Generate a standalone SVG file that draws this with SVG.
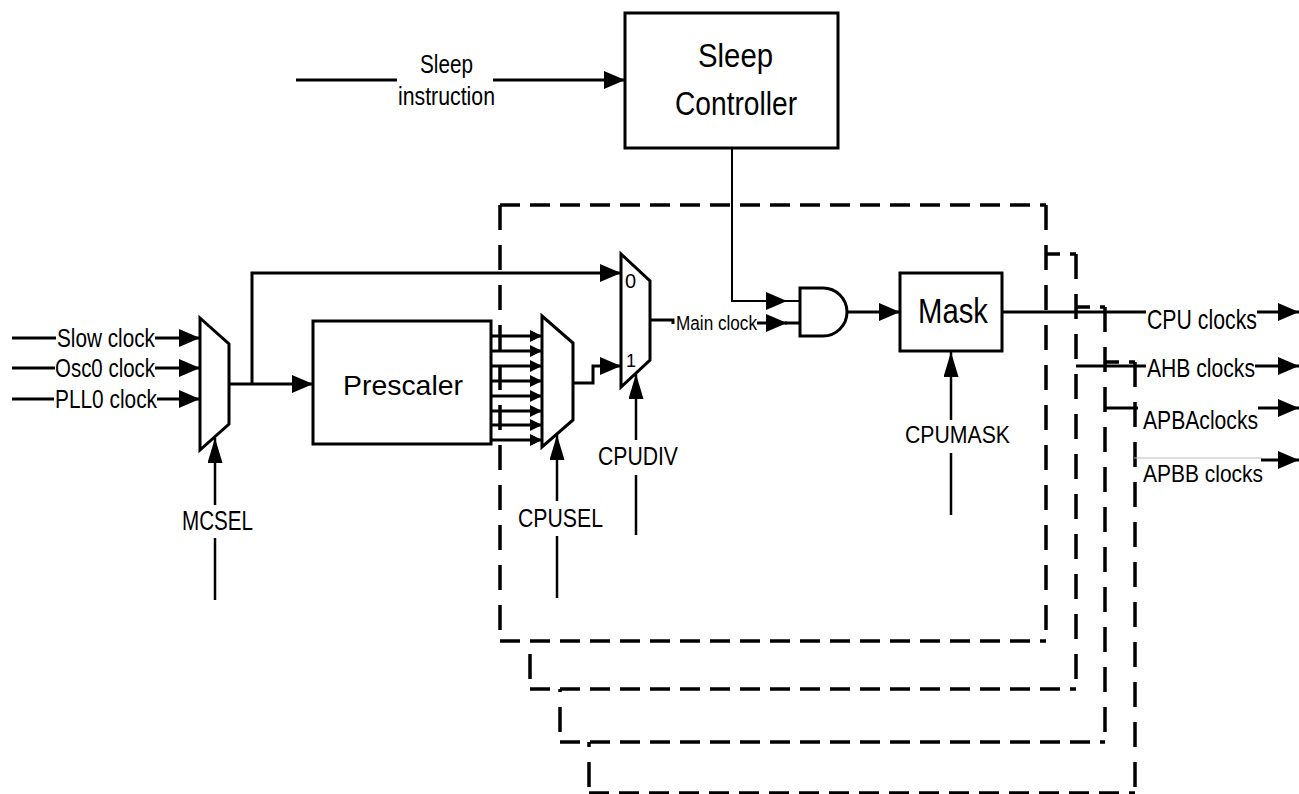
<svg xmlns="http://www.w3.org/2000/svg" width="1299" height="794" viewBox="0 0 1299 794">
<defs>
<style>
text{font-family:"Liberation Sans",Arial,sans-serif;fill:#000}
.box{fill:#fff;stroke:#000;stroke-width:3}
.mux{fill:#fff;stroke:#000;stroke-width:3;stroke-linejoin:miter}
.w{fill:none;stroke:#000;stroke-width:3}
.thin{fill:none;stroke:#000;stroke-width:2}
.ctl{fill:none;stroke:#000;stroke-width:2.5}
.bg{fill:#fff;stroke:none}
.dh{fill:none;stroke:#000;stroke-width:3.5;stroke-dasharray:20 10}
.dv{fill:none;stroke:#000;stroke-width:3.5;stroke-dasharray:25 15}
</style>
<marker id="ah" viewBox="0 0 21 18" refX="21" refY="9" markerWidth="21" markerHeight="18" markerUnits="userSpaceOnUse" orient="auto"><path d="M0,0 L21,9 L0,18 Z" fill="#000"/></marker>
<marker id="as" viewBox="0 0 12 12" refX="12" refY="6" markerWidth="12" markerHeight="12" markerUnits="userSpaceOnUse" orient="auto"><path d="M0,0 L12,6 L0,12 Z" fill="#000"/></marker>
<marker id="av" viewBox="0 0 25 15" refX="25" refY="7.5" markerWidth="25" markerHeight="15" markerUnits="userSpaceOnUse" orient="auto"><path d="M0,0 L25,7.5 L0,15 Z" fill="#000"/></marker>
</defs>
<rect width="1299" height="794" fill="#fff"/>

<g id="clock-domains">
  <g id="domain-apbb">
    <rect class="bg" x="589" y="362" width="546" height="431"/>
    <path class="dh" d="M589,362 H1135 M589,793 H1135"/>
    <path class="dv" d="M589,362 V793 M1135,362 V793"/>
  </g>
  <g id="domain-apba">
    <rect class="bg" x="560" y="307" width="545" height="435"/>
    <path class="dh" d="M560,307 H1105 M560,742 H1105"/>
    <path class="dv" d="M560,307 V742 M1105,307 V742"/>
  </g>
  <g id="domain-ahb">
    <rect class="bg" x="530" y="254" width="546" height="435"/>
    <path class="dh" d="M530,254 H1076 M530,689 H1076"/>
    <path class="dv" d="M530,254 V689 M1076,254 V689"/>
  </g>
  <g id="domain-cpu">
    <rect class="bg" x="500" y="205" width="546" height="436"/>
    <path class="dh" d="M500,205 H1046 M500,641 H1046"/>
    <path class="dv" d="M500,205 V641 M1046,205 V641"/>
  </g>
</g>

<g id="connectors">
  <line class="w" x1="296" y1="80" x2="397" y2="80"/>
  <line class="w" x1="493" y1="80" x2="625" y2="80" marker-end="url(#ah)"/>
  <polyline class="thin" points="732,148 732,301 787,301" marker-end="url(#ah)"/>
  <line class="thin" x1="785" y1="301" x2="800" y2="301"/>

  <line class="w" x1="12" y1="338" x2="56" y2="338"/>
  <line class="w" x1="155" y1="338" x2="200" y2="338" marker-end="url(#ah)"/>
  <line class="w" x1="12" y1="368" x2="55" y2="368"/>
  <line class="w" x1="155" y1="368" x2="200" y2="368" marker-end="url(#ah)"/>
  <line class="w" x1="12" y1="399" x2="54" y2="399"/>
  <line class="w" x1="157" y1="399" x2="200" y2="399" marker-end="url(#ah)"/>

  <line class="w" x1="229" y1="384" x2="313" y2="384" marker-end="url(#ah)"/>
  <polyline class="w" points="252,384 252,273 621,273" marker-end="url(#ah)"/>

  <line class="w" x1="491" y1="336" x2="542" y2="336" marker-end="url(#as)"/>
  <line class="w" x1="491" y1="351" x2="542" y2="351" marker-end="url(#as)"/>
  <line class="w" x1="491" y1="366" x2="542" y2="366" marker-end="url(#as)"/>
  <line class="w" x1="491" y1="381" x2="542" y2="381" marker-end="url(#as)"/>
  <line class="w" x1="491" y1="396" x2="542" y2="396" marker-end="url(#as)"/>
  <line class="w" x1="491" y1="411" x2="542" y2="411" marker-end="url(#as)"/>
  <line class="w" x1="491" y1="425" x2="542" y2="425" marker-end="url(#as)"/>
  <line class="w" x1="491" y1="440" x2="542" y2="440" marker-end="url(#as)"/>

  <polyline class="w" points="573,383 593,383 593,366 621,366" marker-end="url(#ah)"/>

  <polyline class="w" points="650,320 673,320 673,324"/>
  <line class="w" x1="757" y1="323" x2="787" y2="323" marker-end="url(#ah)"/>
  <line class="w" x1="785" y1="323" x2="800" y2="323"/>

  <line class="w" x1="847" y1="312" x2="900" y2="312" marker-end="url(#ah)"/>

  <line class="w" x1="1002" y1="312" x2="1146" y2="312"/>
  <line class="w" x1="1257" y1="312" x2="1299" y2="312" marker-end="url(#ah)"/>
  <line class="w" x1="1076" y1="366" x2="1146" y2="366"/>
  <line class="w" x1="1255" y1="366" x2="1299" y2="366" marker-end="url(#ah)"/>
  <line class="w" x1="1104" y1="408" x2="1138" y2="408"/>
  <line class="w" x1="1258" y1="408" x2="1299" y2="408" marker-end="url(#ah)"/>
  <line x1="1134" y1="458" x2="1262" y2="458" stroke="#bbb" stroke-width="1"/>
  <line class="w" x1="1261" y1="460" x2="1299" y2="460" marker-end="url(#ah)"/>

  <line class="ctl" x1="215" y1="600" x2="215" y2="538"/>
  <line class="ctl" x1="215" y1="505" x2="215" y2="438" marker-end="url(#av)"/>
  <line class="ctl" x1="557" y1="598" x2="557" y2="536"/>
  <line class="ctl" x1="557" y1="501" x2="557" y2="435" marker-end="url(#av)"/>
  <line class="ctl" x1="636" y1="535" x2="636" y2="475"/>
  <line class="ctl" x1="636" y1="440" x2="636" y2="374" marker-end="url(#av)"/>
  <line class="ctl" x1="951" y1="515" x2="951" y2="453"/>
  <line class="ctl" x1="951" y1="420" x2="951" y2="352" marker-end="url(#av)"/>
</g>

<g id="sleep-controller">
  <rect class="box" x="625" y="13" width="213" height="135"/>
  <text x="698" y="67" font-size="33" textLength="75" lengthAdjust="spacingAndGlyphs">Sleep</text>
  <text x="675" y="115" font-size="34" textLength="122" lengthAdjust="spacingAndGlyphs">Controller</text>
</g>

<g id="mux-mcsel">
  <polygon class="mux" points="200,318 229,344 229,424 200,450"/>
</g>

<g id="prescaler">
  <rect class="box" x="313" y="321" width="178" height="123"/>
  <text x="343" y="395" font-size="28" textLength="120" lengthAdjust="spacingAndGlyphs">Prescaler</text>
</g>

<g id="mux-cpusel">
  <polygon class="mux" points="542,316 573,343 573,420 542,447"/>
</g>

<g id="mux-cpudiv">
  <polygon class="mux" points="621,254 650,281 650,360 621,387"/>
  <text x="625" y="288" font-size="20">0</text>
  <text x="626" y="367" font-size="18">1</text>
</g>

<g id="and-gate">
  <path class="mux" d="M800,288 H823 A24,24 0 0 1 823,336 H800 Z"/>
</g>

<g id="mask">
  <rect class="box" x="900" y="273" width="102" height="78"/>
  <text x="918" y="323" font-size="35" textLength="70" lengthAdjust="spacingAndGlyphs">Mask</text>
</g>

<g id="labels">
  <text x="420" y="73" font-size="25" textLength="53" lengthAdjust="spacingAndGlyphs">Sleep</text>
  <text x="398" y="105" font-size="25" textLength="97" lengthAdjust="spacingAndGlyphs">instruction</text>
  <text x="57" y="347" font-size="25" textLength="98" lengthAdjust="spacingAndGlyphs">Slow clock</text>
  <text x="55" y="377" font-size="25" textLength="100" lengthAdjust="spacingAndGlyphs">Osc0 clock</text>
  <text x="55" y="408" font-size="25" textLength="102" lengthAdjust="spacingAndGlyphs">PLL0 clock</text>
  <text x="676" y="330" font-size="20" textLength="81" lengthAdjust="spacingAndGlyphs">Main clock</text>
  <text x="182" y="530" font-size="27" textLength="71" lengthAdjust="spacingAndGlyphs">MCSEL</text>
  <text x="518" y="527" font-size="26" textLength="85" lengthAdjust="spacingAndGlyphs">CPUSEL</text>
  <text x="598" y="465" font-size="26" textLength="80" lengthAdjust="spacingAndGlyphs">CPUDIV</text>
  <text x="905" y="443" font-size="24" textLength="105" lengthAdjust="spacingAndGlyphs">CPUMASK</text>
  <text x="1147" y="329" font-size="28" textLength="110" lengthAdjust="spacingAndGlyphs">CPU clocks</text>
  <text x="1147" y="377" font-size="26" textLength="108" lengthAdjust="spacingAndGlyphs">AHB clocks</text>
  <text x="1143" y="429" font-size="26" textLength="115" lengthAdjust="spacingAndGlyphs">APBAclocks</text>
  <text x="1143" y="482" font-size="24" textLength="120" lengthAdjust="spacingAndGlyphs">APBB clocks</text>
</g>
</svg>
